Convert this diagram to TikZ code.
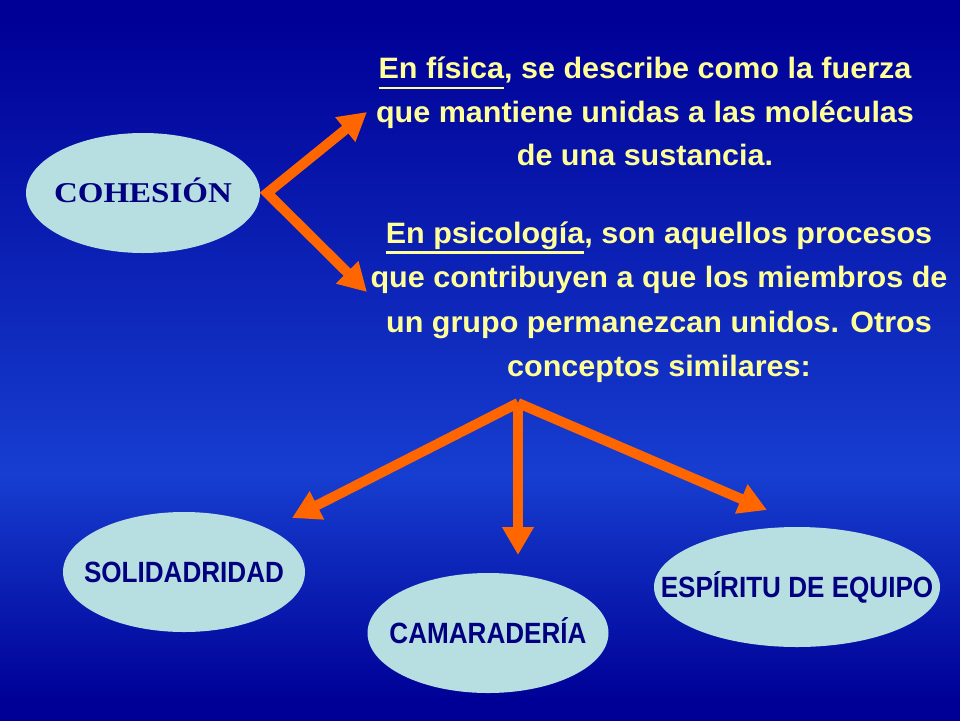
\documentclass[tikz,border=0pt]{standalone}
\usepackage{fontspec}
\setmainfont[FakeStretch=1.035]{Liberation Sans}
\newfontfamily\conceptfont[FakeStretch=0.89]{Liberation Sans}
\newfontfamily\headfont[FakeStretch=1.15]{Liberation Serif}
\usetikzlibrary{arrows.meta,positioning,shapes.geometric}

\newcommand{\lowline}[1]{\setbox0\hbox{#1}\rlap{\rule[-10.5pt]{\wd0}{2.5pt}}#1}

\definecolor{bgdark}{RGB}{0,0,150}
\definecolor{bgmid}{RGB}{22,62,208}
\definecolor{textyellow}{RGB}{255,255,153}
\definecolor{ellfill}{RGB}{183,222,224}
\definecolor{navy}{RGB}{0,0,128}
\definecolor{arrorange}{RGB}{255,102,0}

\pgfdeclareverticalshading{slidebg}{100bp}{color(0bp)=(bgdark); color(25bp)=(bgdark);
  color(26.4bp)=(bgdark); color(42bp)=(bgmid); color(73.6bp)=(bgdark);
  color(75bp)=(bgdark); color(100bp)=(bgdark)}

\begin{document}
\begin{tikzpicture}[x=1pt,y=-1pt,
  >={Triangle[length=28pt,width=30pt]},
  para/.style={text=textyellow, align=center, inner sep=0pt,
    font=\fontsize{29.5}{44.5}\selectfont\bfseries},
  concept/.style={ellipse, fill=ellfill, inner sep=0pt, minimum height=120pt},
  conceptlabel/.style={text=navy, inner sep=0pt, text height=21pt, text depth=0pt,
    font=\conceptfont\fontsize{29.3}{35}\selectfont\bfseries},
  link/.style={draw=arrorange, line width=10pt, ->}]

  \shade[shading=slidebg] (0,0) rectangle (960,720);

  %==================================================

  \node[concept, minimum width=234pt,
    label={[conceptlabel, text height=19pt,
      font=\headfont\fontsize{28.7}{34}\selectfont\bfseries]center:COHESIÓN}] (cohesion) at (143,193) {};

  \node[para, anchor=north, font=\fontsize{29.5}{43.5}\selectfont\bfseries] (fisica) at (645,57)
    {\lowline{En física}, se describe como la fuerza\\que mantiene unidas a las moléculas\\de una sustancia.};
  \node[para, xshift=14pt, below=55pt of fisica] (psico)
    {\lowline{En psicología}, son aquellos procesos\\que contribuyen a que los miembros de\\un grupo permanezcan unidos. Otros\\conceptos similares:};

  \node[concept, minimum width=242pt, label={[conceptlabel]center:SOLIDADRIDAD}] (solidaridad) at (184,572) {};
  \node[concept, minimum width=241pt, label={[conceptlabel]center:CAMARADERÍA}] (camaraderia) at (488,633) {};
  \node[concept, minimum width=286pt, label={[conceptlabel]center:ESPÍRITU DE EQUIPO}] (espiritu) at (797,587) {};

  %==================================================

  \coordinate[right=7pt of cohesion] (split1);
  \coordinate (fisica_tip) at (367,112);
  \coordinate (psico_tip) at (367,292);

  \coordinate (split2) at (518,403);
  \coordinate (solid_tip) at (292,518);
  \coordinate (camar_tip) at (518,555);
  \coordinate (espir_tip) at (767,510);

  \draw[link, <->] (fisica_tip) -- (split1) -- (psico_tip);

  \draw[link] (split2) -- (solid_tip);
  \draw[link] (split2) -- (camar_tip);
  \draw[link] (split2) -- (espir_tip);

\end{tikzpicture}
\end{document}
